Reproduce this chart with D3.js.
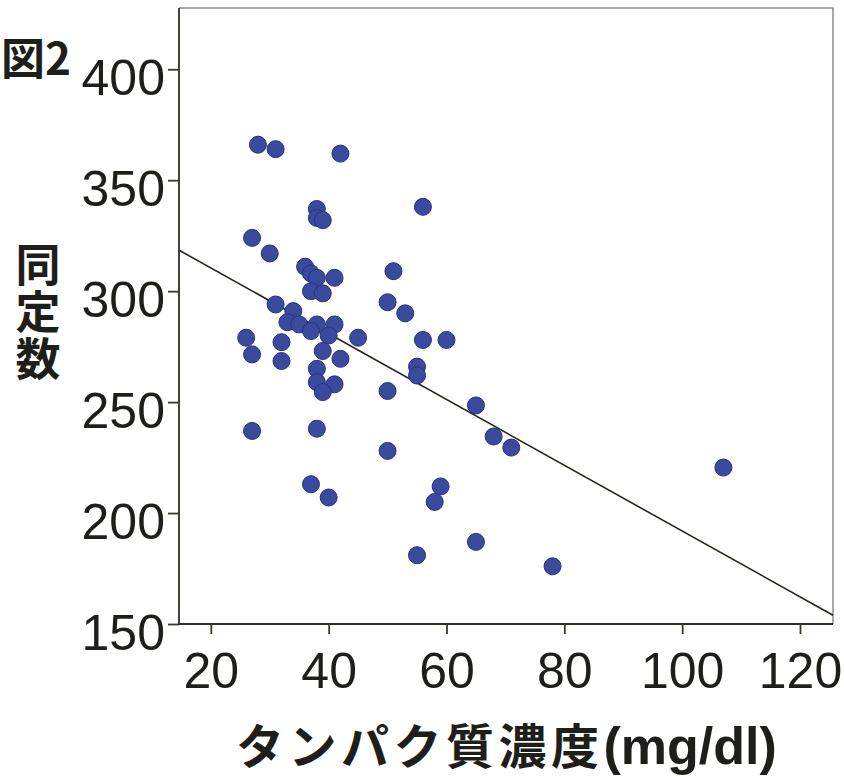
<!DOCTYPE html>
<html>
<head>
<meta charset="utf-8">
<script src="https://cdn.jsdelivr.net/npm/d3@7"></script>
<style>
  body { margin: 0; background: #fff; }
  svg { display: block; }
</style>
</head>
<body>
<svg id="chart"></svg>
<script>
const width = 844;
const height = 777;

// data
const protein = [28, 31, 42, 56, 38, 38, 39, 27, 30, 36, 37, 38, 41, 51, 37, 39, 50, 53, 31, 34,
    33, 38, 41, 35, 37, 40, 26, 32, 45, 56, 60, 39, 27, 32, 42, 55, 55, 38, 38, 41,
    39, 50, 27, 38, 50, 37, 40, 59, 58, 65, 68, 71, 107, 65, 78, 55];
const counts = [366, 364, 362, 338, 337, 333, 332, 324, 317, 311, 308, 306, 306, 309, 300, 299, 295, 290, 294, 291,
    286, 285, 285, 285, 282, 280, 279, 277, 279, 278, 278, 273, 271.5, 268.5, 269.5, 266, 262, 265, 259, 258,
    254.5, 255, 237, 238, 228, 213, 207, 212, 205, 248.5, 234.5, 229.5, 220.5, 187, 176, 181];
const xTicks = [20, 40, 60, 80, 100, 120];
const yTicks = [150, 200, 250, 300, 350, 400];
const fitIntercept = 340.1;
const fitSlope = -1.482;

const plotLeft = 179, plotRight = 833, plotTop = 8, plotBottom = 624;

const svg = d3.select('#chart')
    .attr('width', width)
    .attr('height', height);

const x = d3.scaleLinear().domain([14.6, 125.6]).range([plotLeft, plotRight]);
const y = d3.scaleLinear().domain([150, 427.6]).range([plotBottom, plotTop]);

// frame: top and right lighter
svg.append('path')
    .attr('d', `M${plotLeft},${plotTop}H${plotRight}V${plotBottom}`)
    .attr('fill', 'none')
    .attr('stroke', '#8a8a8a')
    .attr('stroke-width', 1.5);

// regression line
const lineX = x.domain();
svg.append('line')
    .attr('x1', x(lineX[0]))
    .attr('y1', y(fitIntercept + fitSlope * lineX[0]))
    .attr('x2', x(lineX[1]))
    .attr('y2', y(fitIntercept + fitSlope * lineX[1]))
    .attr('stroke', '#26261a')
    .attr('stroke-width', 1.6);

// points
const points = protein.map((p, i) => ({x: p, y: counts[i]}));
svg.append('g').selectAll('circle').data(points)
    .enter()
    .append('circle')
    .attr('cx', d => x(d.x))
    .attr('cy', d => y(d.y))
    .attr('r', 8.5)
    .attr('fill', '#3a4a9e')
    .attr('stroke', '#27327a')
    .attr('stroke-width', 1);

// axes
const xAxis = svg.append('g')
    .attr('transform', `translate(0, ${plotBottom})`)
    .call(d3.axisBottom(x).tickValues(xTicks).tickSize(10).tickPadding(18).tickSizeOuter(0));
const yAxis = svg.append('g')
    .attr('transform', `translate(${plotLeft}, 0)`)
    .call(d3.axisLeft(y).tickValues(yTicks).tickSize(11).tickPadding(3).tickSizeOuter(0));

[xAxis, yAxis].forEach(a => {
    a.select('.domain').attr('stroke', '#2e2e26').attr('stroke-width', 1.8);
    a.selectAll('.tick line').attr('stroke', '#3a3a2a').attr('stroke-width', 1.8);
    a.selectAll('.tick text')
        .attr('fill', '#1e1e1a')
        .style('font-family', '"Liberation Sans", Arial, sans-serif')
        .style('font-size', '50px');
});
yAxis.selectAll('.tick text').attr('dy', '0.5em');
xAxis.select('.domain').attr('d', `M${plotLeft},0H${plotRight}`);
yAxis.select('.domain').attr('d', `M0,${plotTop}V${plotBottom}`);

// labels
const cjk = '"Noto Sans CJK JP", "Noto Sans", sans-serif';

svg.append('text')
    .attr('x', 1)
    .attr('y', 75)
    .style('font-family', cjk)
    .style('font-weight', 'bold')
    .style('font-size', '44px')
    .attr('fill', '#1e1e1a')
    .text('図2');

svg.append('text')
    .attr('x', 38)
    .attr('y', 242)
    .style('writing-mode', 'vertical-rl')
    .style('letter-spacing', '2px')
    .style('font-family', cjk)
    .style('font-weight', 'bold')
    .style('font-size', '45px')
    .attr('fill', '#1e1e1a')
    .text('同定数');

const xLabel = svg.append('text')
    .attr('x', 236)
    .attr('y', 764)
    .style('font-family', cjk)
    .style('font-weight', 'bold')
    .style('font-size', '48px')
    .attr('fill', '#1e1e1a');
xLabel.append('tspan').style('letter-spacing', '4.5px').text('タンパク質濃度');
xLabel.append('tspan')
    .style('font-family', '"Liberation Sans", Arial, sans-serif')
    .style('font-size', '52px')
    .text('(mg/dl)');
</script>
</body>
</html>
